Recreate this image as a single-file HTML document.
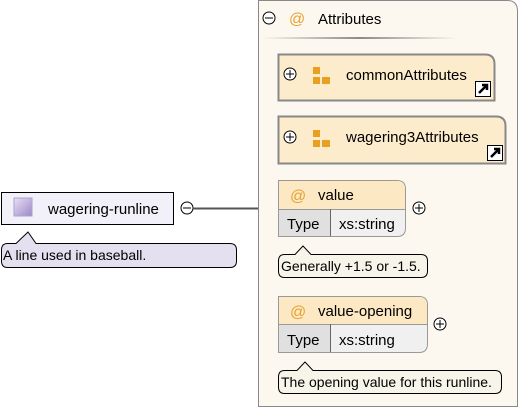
<!DOCTYPE html>
<html><head><style>body{margin:0;background:#fff}svg{display:block}text{font-family:"Liberation Sans",Arial,sans-serif;font-size:15px;fill:#000}</style></head><body>
<svg width="520" height="410" xmlns="http://www.w3.org/2000/svg">
<defs>
<linearGradient id="hl" x1="0" x2="1"><stop offset="0" stop-color="#fdf8ef"/><stop offset="0.5" stop-color="#8a8a8a"/><stop offset="1" stop-color="#fdf8ef"/></linearGradient>
<linearGradient id="pu" x1="0" y1="0" x2="1" y2="1"><stop offset="0" stop-color="#e8e0f4"/><stop offset="1" stop-color="#9c88c8"/></linearGradient>
</defs>
<path d="M258.5 0.5 H507 Q517.5 0.5 517.5 11 V406.5 H258.5 Z" fill="#fdf8ef" stroke="#888"/>
<circle cx="269" cy="18" r="6" fill="#fff" stroke="#000"/><line x1="265" y1="18" x2="273" y2="18" stroke="#000"/>
<text x="289" y="24" style="fill:#e8a030;font-size:16px">@</text>
<text x="318" y="24">Attributes</text>
<rect x="262" y="37" width="195" height="2" fill="url(#hl)"/>
<path d="M278.5 54.5 H485 Q494.5 54.5 494.5 64 V100.5 H278.5 Z" fill="#fdeccc" stroke="#888" stroke-width="2"/>
<circle cx="290" cy="74" r="6" fill="#fff" stroke="#000"/><path d="M286 74h8M290 70v8" stroke="#000"/>
<rect x="313" y="67" width="7" height="7" fill="#e8a020"/><rect x="313" y="77" width="7" height="7" fill="#e8a020"/><rect x="322" y="77" width="8" height="7" fill="#e8a020"/>
<text x="346" y="80">commonAttributes</text>
<rect x="475.5" y="81.5" width="15" height="15" fill="#fff" stroke="#000"/><path d="M479 93l8-8M482 85h5v5" stroke="#000" stroke-width="2.5" fill="none"/>
<path d="M278.5 116.5 H496 Q505.5 116.5 505.5 126 V163.5 H278.5 Z" fill="#fdeccc" stroke="#888" stroke-width="2"/>
<circle cx="290" cy="137" r="6" fill="#fff" stroke="#000"/><path d="M286 137h8M290 133v8" stroke="#000"/>
<rect x="313" y="130" width="7" height="7" fill="#e8a020"/><rect x="313" y="140" width="7" height="7" fill="#e8a020"/><rect x="322" y="140" width="8" height="7" fill="#e8a020"/>
<text x="346" y="142">wagering3Attributes</text>
<rect x="487.5" y="145.5" width="15" height="15" fill="#fff" stroke="#000"/><path d="M491 157l8-8M494 149h5v5" stroke="#000" stroke-width="2.5" fill="none"/>
<path d="M278.5 180.5 H397 Q405.5 180.5 405.5 189 V228 Q405.5 236.5 397 236.5 H278.5 Z" fill="#f0f0f0" stroke="#999"/>
<path d="M279 181 H397 Q405 181 405 189 V209 H279 Z" fill="#fde8c4"/>
<rect x="279" y="209" width="51" height="27" fill="#e0e0e0"/>
<line x1="278" y1="209.5" x2="405" y2="209.5" stroke="#999"/><line x1="330.5" y1="209" x2="330.5" y2="236" stroke="#666"/>
<text x="290" y="201" style="fill:#e8a030;font-size:16px">@</text><text x="318" y="200">value</text>
<text x="287" y="229">Type</text><text x="339" y="229">xs:string</text>
<circle cx="419" cy="208" r="6" fill="#fff" stroke="#000"/><path d="M415 208h8M419 204v8" stroke="#000"/>
<path d="M284.5 254.5 H295 L303 246 L311 254.5 H421 Q427.5 254.5 427.5 261 V271 Q427.5 277.5 421 277.5 H284.5 Q278.5 277.5 278.5 271 V261 Q278.5 254.5 284.5 254.5 Z" fill="#f7f4ea" stroke="#000"/>
<text x="281" y="271" style="font-size:14px">Generally +1.5 or -1.5.</text>
<path d="M278.5 296.5 H419 Q427.5 296.5 427.5 305 V344 Q427.5 352.5 419 352.5 H278.5 Z" fill="#f0f0f0" stroke="#999"/>
<path d="M279 297 H419 Q427 297 427 305 V324 H279 Z" fill="#fde8c4"/>
<rect x="279" y="324" width="51" height="28" fill="#e0e0e0"/>
<line x1="278" y1="324.5" x2="427" y2="324.5" stroke="#999"/><line x1="330.5" y1="324" x2="330.5" y2="352" stroke="#666"/>
<text x="290" y="317" style="fill:#e8a030;font-size:16px">@</text><text x="318" y="316">value-opening</text>
<text x="287" y="345">Type</text><text x="339" y="345">xs:string</text>
<circle cx="440" cy="324" r="6" fill="#fff" stroke="#000"/><path d="M436 324h8M440 320v8" stroke="#000"/>
<path d="M284.5 370.5 H297 L305 362 L313 370.5 H495 Q501.5 370.5 501.5 377 V387 Q501.5 393.5 495 393.5 H284.5 Q278.5 393.5 278.5 387 V377 Q278.5 370.5 284.5 370.5 Z" fill="#f7f4ea" stroke="#000"/>
<text x="281" y="387" style="font-size:14px">The opening value for this runline.</text>
<rect x="1.5" y="192.5" width="172" height="32" fill="#f2f0f8" stroke="#000"/>
<rect x="14" y="198" width="18" height="18" fill="url(#pu)" stroke="#b0a0d0"/>
<text x="48" y="214">wagering-runline</text>
<circle cx="187" cy="208" r="6" fill="#fff" stroke="#000"/><line x1="183" y1="208" x2="191" y2="208" stroke="#000"/>
<line x1="193" y1="208.5" x2="258" y2="208.5" stroke="#555" stroke-width="2"/>
<path d="M7.5 243.5 H16 L28 232 L36 243.5 H230 Q236.5 243.5 236.5 250 V261 Q236.5 267.5 230 267.5 H7.5 Q1.5 267.5 1.5 261 V250 Q1.5 243.5 7.5 243.5 Z" fill="#e4e0f0" stroke="#000"/>
<text x="3" y="260" style="font-size:14px">A line used in baseball.</text>
</svg>
</body></html>
